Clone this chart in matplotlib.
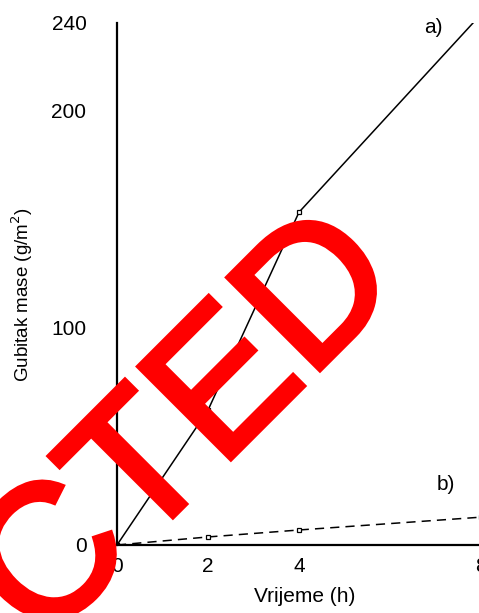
import matplotlib
matplotlib.use("Agg")
import matplotlib.pyplot as plt
import matplotlib.patheffects as pe

plt.rcParams['font.family'] = ['Liberation Sans', 'DejaVu Sans']

# data
vrijeme = [0, 2, 4, 8]
gubitak_a = [0, 62, 153, 244]
gubitak_b = [0, 3.7, 6.9, 12.8]
x_ticks = [0, 2, 4, 8]
y_ticks = [0, 100, 200, 240]

fig = plt.figure(figsize=(4.79, 6.13), dpi=100)
# axes runs a bit past the right edge, like the cropped scan
ax = fig.add_axes([117 / 479, 68 / 613, 364 / 479, 522 / 613])

ax.plot(vrijeme, gubitak_a, '-', color='black', lw=1.1,
        marker='s', ms=3.5, mfc='white', mec='black', mew=0.9)
ax.plot(vrijeme, gubitak_b, '--', color='black', lw=1.1, dashes=(6, 4),
        marker='s', ms=3.5, mfc='white', mec='black', mew=0.9)

ax.set_xlim(0, 8)
ax.set_ylim(0, 240)
ax.set_xticks(x_ticks)
ax.set_yticks(y_ticks)
ax.tick_params(axis='both', length=0, labelsize=15)
ax.tick_params(axis='y', pad=22)
ax.tick_params(axis='x', pad=9)

for s in ['top', 'right']:
    ax.spines[s].set_visible(False)
for s in ['left', 'bottom']:
    ax.spines[s].set_linewidth(1.6)

ax.set_ylabel("Gubitak mase (g/m$^2$)", fontsize=13.5)
ax.yaxis.set_label_coords(-0.225, 0.48)
ax.set_xlabel("Vrijeme (h)", fontsize=15)
ax.xaxis.set_label_coords((305 - 117) / 364, -0.08)

ax.text(6.95, 238, "a)", fontsize=15, ha='center', va='center')
ax.text(7.23, 28, "b)", fontsize=15, ha='center', va='center')

# red stamp across the chart
fig.text(189 / 479, 1 - 431 / 613, "CTED", color='red', fontsize=136,
         rotation=45, rotation_mode='anchor', ha='center', va='center',
         path_effects=[pe.withStroke(linewidth=4, foreground='red',
                                     joinstyle='miter')])

fig.savefig("out.png", dpi=100)
